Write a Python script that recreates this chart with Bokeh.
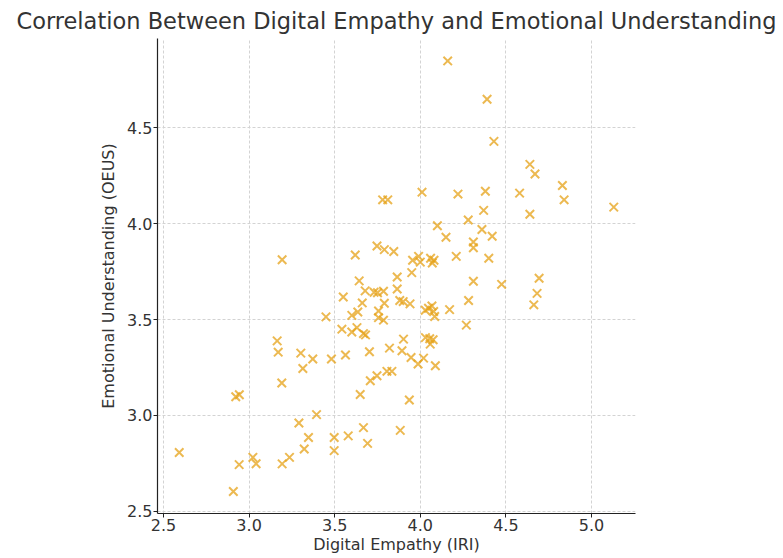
from bokeh.plotting import figure
from bokeh.models import ColumnDataSource, Range1d, FixedTicker, PrintfTickFormatter
from bokeh.embed import file_html
from bokeh.resources import INLINE

# Digital Empathy (IRI) vs Emotional Understanding (OEUS)
iri = [4.16, 4.39, 4.43, 4.64, 4.67, 4.83, 4.84, 5.13, 4.64, 4.58,
       4.38, 4.22, 4.01, 3.78, 3.81, 4.37, 4.28, 4.10, 4.15, 4.36,
       4.42, 4.31, 4.31, 4.40, 4.21, 4.08, 4.06, 4.07, 3.99, 3.955,
       4.00, 3.845, 3.79, 3.95, 3.865, 3.865, 3.785, 3.79, 3.88, 3.90,
       3.94, 4.31, 4.475, 4.694, 4.682, 4.663, 4.282, 4.171, 4.068, 4.048,
       4.029, 4.078, 4.084, 4.269, 3.785, 3.756, 3.902, 3.82, 4.03, 4.055,
       4.075, 4.058, 3.893, 3.946, 4.019, 3.987, 4.088, 3.805, 3.834, 3.936,
       3.883, 2.592, 2.908, 2.942, 2.922, 2.943, 3.022, 3.041, 3.193, 3.236,
       3.322, 3.347, 3.291, 3.394, 3.497, 3.497, 3.579, 3.668, 3.692, 3.191,
       3.314, 3.649, 3.708, 3.747, 3.193, 3.164, 3.170, 3.302, 3.372, 3.481,
       3.449, 3.563, 3.542, 3.60, 3.63, 3.668, 3.68, 3.703, 3.60, 3.635,
       3.661, 3.55, 3.643, 3.678, 3.73, 3.75, 3.756, 3.62, 3.747]
oeus = [4.85, 4.65, 4.43, 4.31, 4.26, 4.20, 4.125, 4.087, 4.05, 4.16,
        4.17, 4.155, 4.165, 4.125, 4.125, 4.07, 4.02, 3.99, 3.93, 3.97,
        3.935, 3.905, 3.875, 3.82, 3.83, 3.81, 3.82, 3.795, 3.83, 3.81,
        3.80, 3.855, 3.865, 3.745, 3.722, 3.66, 3.648, 3.585, 3.60, 3.594,
        3.582, 3.70, 3.684, 3.716, 3.637, 3.577, 3.60, 3.552, 3.571, 3.559,
        3.549, 3.542, 3.516, 3.471, 3.497, 3.51, 3.398, 3.351, 3.406, 3.40,
        3.395, 3.372, 3.337, 3.302, 3.299, 3.268, 3.259, 3.23, 3.23, 3.08,
        2.922, 2.806, 2.603, 2.743, 3.097, 3.108, 2.781, 2.748, 2.747, 2.781,
        2.825, 2.885, 2.96, 3.004, 2.885, 2.816, 2.893, 2.936, 2.854, 3.169,
        3.245, 3.109, 3.181, 3.207, 3.812, 3.389, 3.33, 3.325, 3.294, 3.294,
        3.514, 3.315, 3.45, 3.435, 3.458, 3.427, 3.42, 3.332, 3.522, 3.54,
        3.587, 3.618, 3.702, 3.65, 3.643, 3.64, 3.545, 3.837, 3.884]

x_ticks = [2.5, 3.0, 3.5, 4.0, 4.5, 5.0]
y_ticks = [2.5, 3.0, 3.5, 4.0, 4.5]

title_text = "Correlation Between Digital Empathy and Emotional Understanding"
x_label = "Digital Empathy (IRI)"
y_label = "Emotional Understanding (OEUS)"

FONT = "DejaVu Sans"
TXT = "#333333"

src = ColumnDataSource(data=dict(x=iri, y=oeus))

p = figure(width=783, height=558, output_backend="svg", toolbar_location=None,
           x_range=Range1d(2.465, 5.257), y_range=Range1d(2.488, 4.967),
           min_border_left=157, min_border_right=148,
           min_border_top=37, min_border_bottom=45)

p.title.text = title_text
p.title.text_font = FONT
p.title.text_font_size = "22.5px"
p.title.text_font_style = "normal"
p.title.text_color = TXT
p.title.align = "center"
p.title.standoff = 10

p.outline_line_color = None
p.background_fill_color = "white"
p.border_fill_color = "white"

for ax in (p.xaxis[0], p.yaxis[0]):
    ax.axis_line_color = "#222222"
    ax.axis_line_width = 1.2
    ax.major_tick_line_color = "#222222"
    ax.major_tick_in = 0
    ax.major_tick_out = 4
    ax.minor_tick_line_color = None
    ax.major_label_text_font = FONT
    ax.major_label_text_font_size = "16px"
    ax.major_label_text_color = TXT
    ax.major_label_standoff = 1
    ax.formatter = PrintfTickFormatter(format="%.1f")
    ax.axis_label_text_font = FONT
    ax.axis_label_text_font_size = "16px"
    ax.axis_label_text_font_style = "normal"
    ax.axis_label_text_color = TXT

p.xaxis.ticker = FixedTicker(ticks=x_ticks)
p.yaxis.ticker = FixedTicker(ticks=y_ticks)

p.xaxis.axis_label = x_label
p.xaxis.axis_label_standoff = 1
p.yaxis.axis_label = y_label
p.yaxis.axis_label_standoff = 6

p.xgrid.grid_line_color = "#d3d3d3"
p.ygrid.grid_line_color = "#d3d3d3"
p.xgrid.grid_line_dash = "3 2"
p.ygrid.grid_line_dash = "3 2"
p.xgrid.grid_line_width = 1
p.ygrid.grid_line_width = 1

p.scatter("x", "y", source=src, marker="x", size=12, line_color="#E6A117",
          line_alpha=0.75, line_width=2)

open("out.html", "w").write(file_html(p, INLINE))
